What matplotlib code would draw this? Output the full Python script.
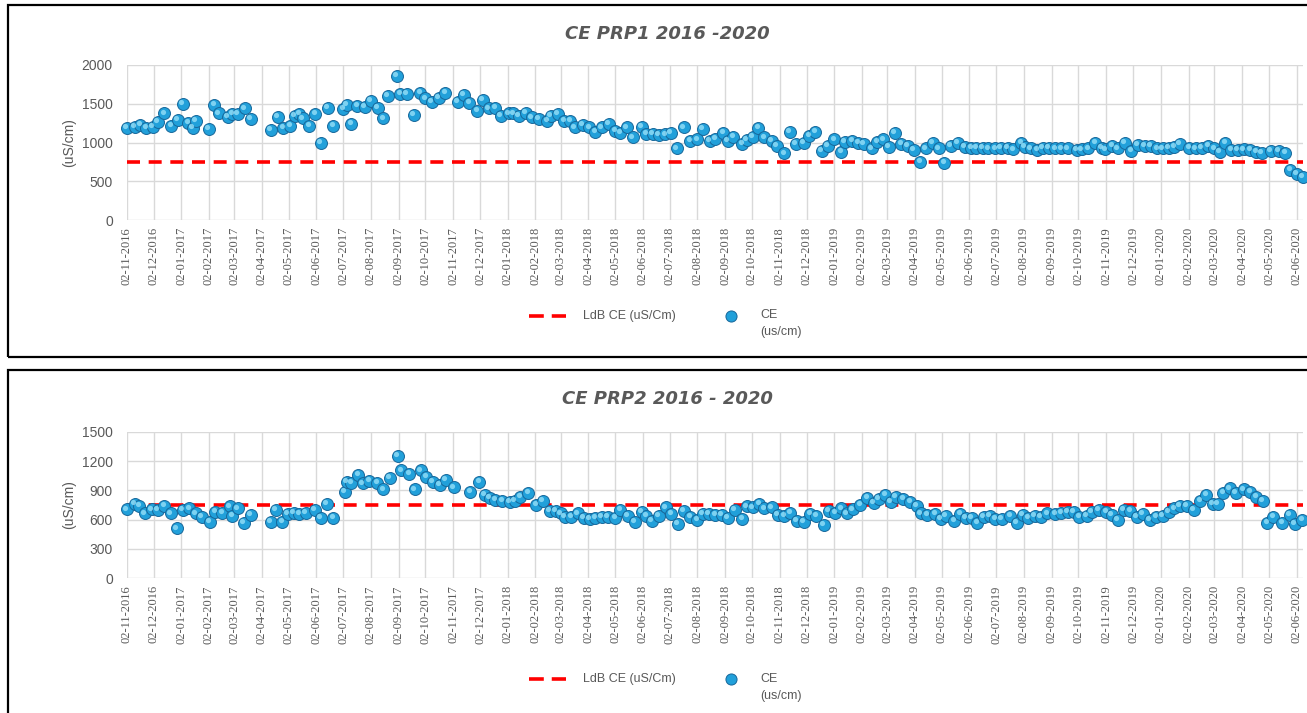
import matplotlib
matplotlib.use("Agg")
import matplotlib.pyplot as plt
import matplotlib.dates as mdates
import pandas as pd
from matplotlib.lines import Line2D
from matplotlib.patches import Rectangle
from matplotlib.transforms import offset_copy

plt.rcParams['font.family'] = ['Liberation Sans', 'DejaVu Sans']

# PRP1 - conductividad electrica (uS/cm)
prp1_fechas = [
    "2016-11-02", "2016-11-11", "2016-11-17", "2016-11-24", "2016-12-01", "2016-12-07", "2016-12-14",
    "2016-12-22", "2016-12-29", "2017-01-04", "2017-01-10", "2017-01-15", "2017-01-18", "2017-02-02",
    "2017-02-08", "2017-02-13", "2017-02-23", "2017-02-28", "2017-03-06", "2017-03-14", "2017-03-21",
    "2017-04-12", "2017-04-20", "2017-04-26", "2017-05-04", "2017-05-09", "2017-05-14", "2017-05-18",
    "2017-05-25", "2017-06-01", "2017-06-07", "2017-06-15", "2017-06-21", "2017-07-02", "2017-07-06",
    "2017-07-11", "2017-07-18", "2017-07-26", "2017-08-02", "2017-08-10", "2017-08-16", "2017-08-21",
    "2017-08-31", "2017-09-04", "2017-09-11", "2017-09-19", "2017-09-26", "2017-10-02", "2017-10-09",
    "2017-10-17", "2017-10-24", "2017-11-07", "2017-11-14", "2017-11-20", "2017-11-29", "2017-12-05",
    "2017-12-12", "2017-12-19", "2017-12-25", "2018-01-03", "2018-01-08", "2018-01-14", "2018-01-22",
    "2018-01-29", "2018-02-06", "2018-02-15", "2018-02-19", "2018-02-27", "2018-03-06", "2018-03-13",
    "2018-03-18", "2018-03-27", "2018-04-03", "2018-04-10", "2018-04-17", "2018-04-25", "2018-05-02",
    "2018-05-08", "2018-05-15", "2018-05-22", "2018-06-01", "2018-06-06", "2018-06-13", "2018-06-20",
    "2018-06-27", "2018-07-03", "2018-07-10", "2018-07-18", "2018-07-25", "2018-08-02", "2018-08-08",
    "2018-08-16", "2018-08-22", "2018-08-31", "2018-09-05", "2018-09-11", "2018-09-21", "2018-09-26",
    "2018-10-03", "2018-10-09", "2018-10-16", "2018-10-24", "2018-10-30", "2018-11-07", "2018-11-13",
    "2018-11-20", "2018-11-29", "2018-12-05", "2018-12-12", "2018-12-19", "2018-12-26", "2019-01-02",
    "2019-01-10", "2019-01-14", "2019-01-22", "2019-01-29", "2019-02-04", "2019-02-13", "2019-02-19",
    "2019-02-26", "2019-03-04", "2019-03-11", "2019-03-18", "2019-03-25", "2019-04-01", "2019-04-08",
    "2019-04-14", "2019-04-22", "2019-04-29", "2019-05-05", "2019-05-12", "2019-05-20", "2019-05-28",
    "2019-06-04", "2019-06-10", "2019-06-17", "2019-06-23", "2019-07-01", "2019-07-07", "2019-07-15",
    "2019-07-21", "2019-07-30", "2019-08-03", "2019-08-10", "2019-08-17", "2019-08-23", "2019-08-30",
    "2019-09-06", "2019-09-13", "2019-09-20", "2019-09-30", "2019-10-06", "2019-10-13", "2019-10-21",
    "2019-10-28", "2019-11-01", "2019-11-09", "2019-11-15", "2019-11-23", "2019-11-30", "2019-12-07",
    "2019-12-15", "2019-12-22", "2019-12-29", "2020-01-04", "2020-01-11", "2020-01-17", "2020-01-23",
    "2020-02-03", "2020-02-10", "2020-02-17", "2020-02-24", "2020-03-02", "2020-03-08", "2020-03-14",
    "2020-03-21", "2020-03-28", "2020-04-04", "2020-04-11", "2020-04-18", "2020-04-24", "2020-05-04",
    "2020-05-13", "2020-05-20", "2020-05-26", "2020-06-02", "2020-06-09",
]
prp1_ce = [
    1190, 1205, 1225, 1190, 1200, 1270, 1375,
    1215, 1290, 1495, 1255, 1190, 1275, 1180,
    1490, 1375, 1335, 1365, 1365, 1440, 1305,
    1160, 1335, 1190, 1215, 1340, 1365, 1310,
    1215, 1365, 990, 1450, 1215, 1430, 1490,
    1235, 1470, 1460, 1535, 1450, 1310, 1600,
    1860, 1625, 1625, 1355, 1635, 1570, 1525,
    1575, 1635, 1525, 1610, 1515, 1410, 1550,
    1440, 1450, 1340, 1375, 1375, 1340, 1385,
    1325, 1300, 1275, 1340, 1365, 1280, 1280,
    1195, 1225, 1195, 1140, 1195, 1235, 1150,
    1125, 1195, 1065, 1205, 1110, 1110, 1095,
    1105, 1125, 925, 1195, 1025, 1040, 1175,
    1025, 1045, 1120, 1025, 1075, 980, 1030,
    1075, 1185, 1065, 1025, 955, 860, 1140,
    980, 990, 1085, 1140, 890, 955, 1040,
    875, 1010, 1025, 990, 980, 925, 1010,
    1040, 945, 1120, 980, 955, 905, 750,
    925, 1000, 925, 740, 955, 1000, 945,
    935, 935, 935, 925, 925, 935, 935,
    910, 1000, 945, 925, 905, 935, 935,
    925, 925, 925, 905, 910, 925, 1000,
    935, 910, 955, 925, 990, 890, 965,
    955, 955, 925, 925, 935, 945, 980,
    935, 925, 935, 955, 925, 880, 1000,
    905, 905, 910, 905, 880, 870, 895,
    895, 870, 645, 600, 560,
]

# PRP2 - conductividad electrica (uS/cm)
prp2_fechas = [
    "2016-11-02", "2016-11-11", "2016-11-16", "2016-11-22", "2016-11-30", "2016-12-07", "2016-12-14",
    "2016-12-21", "2016-12-28", "2017-01-04", "2017-01-11", "2017-01-18", "2017-01-25", "2017-02-03",
    "2017-02-09", "2017-02-17", "2017-02-25", "2017-02-28", "2017-03-06", "2017-03-13", "2017-03-21",
    "2017-04-12", "2017-04-18", "2017-04-25", "2017-05-01", "2017-05-08", "2017-05-14", "2017-05-21",
    "2017-05-31", "2017-06-07", "2017-06-14", "2017-06-21", "2017-07-04", "2017-07-06", "2017-07-11",
    "2017-07-19", "2017-07-24", "2017-07-31", "2017-08-09", "2017-08-16", "2017-08-23", "2017-09-01",
    "2017-09-05", "2017-09-14", "2017-09-20", "2017-09-27", "2017-10-03", "2017-10-10", "2017-10-18",
    "2017-10-25", "2017-11-03", "2017-11-21", "2017-12-01", "2017-12-07", "2017-12-13", "2017-12-19",
    "2017-12-27", "2018-01-04", "2018-01-10", "2018-01-16", "2018-01-25", "2018-02-03", "2018-02-10",
    "2018-02-18", "2018-02-25", "2018-03-02", "2018-03-07", "2018-03-14", "2018-03-21", "2018-03-28",
    "2018-04-04", "2018-04-10", "2018-04-17", "2018-04-24", "2018-05-02", "2018-05-08", "2018-05-16",
    "2018-05-24", "2018-06-01", "2018-06-06", "2018-06-12", "2018-06-20", "2018-06-28", "2018-07-04",
    "2018-07-11", "2018-07-18", "2018-07-25", "2018-08-02", "2018-08-08", "2018-08-15", "2018-08-22",
    "2018-08-29", "2018-09-05", "2018-09-13", "2018-09-21", "2018-09-26", "2018-10-03", "2018-10-10",
    "2018-10-16", "2018-10-24", "2018-10-31", "2018-11-07", "2018-11-14", "2018-11-21", "2018-11-29",
    "2018-12-06", "2018-12-13", "2018-12-21", "2018-12-27", "2019-01-03", "2019-01-10", "2019-01-16",
    "2019-01-23", "2019-01-31", "2019-02-08", "2019-02-15", "2019-02-21", "2019-02-28", "2019-03-06",
    "2019-03-12", "2019-03-20", "2019-03-28", "2019-04-04", "2019-04-09", "2019-04-16", "2019-04-25",
    "2019-05-01", "2019-05-07", "2019-05-16", "2019-05-23", "2019-05-29", "2019-06-05", "2019-06-11",
    "2019-06-18", "2019-06-25", "2019-07-01", "2019-07-08", "2019-07-18", "2019-07-25", "2019-08-01",
    "2019-08-07", "2019-08-14", "2019-08-21", "2019-08-28", "2019-09-06", "2019-09-13", "2019-09-20",
    "2019-09-27", "2019-10-03", "2019-10-11", "2019-10-17", "2019-10-25", "2019-11-02", "2019-11-08",
    "2019-11-15", "2019-11-22", "2019-11-29", "2019-12-06", "2019-12-13", "2019-12-21", "2019-12-28",
    "2020-01-04", "2020-01-11", "2020-01-17", "2020-01-23", "2020-01-31", "2020-02-08", "2020-02-15",
    "2020-02-22", "2020-02-29", "2020-03-06", "2020-03-12", "2020-03-19", "2020-03-26", "2020-04-04",
    "2020-04-11", "2020-04-18", "2020-04-25", "2020-04-30", "2020-05-07", "2020-05-17", "2020-05-25",
    "2020-05-31", "2020-06-08",
]
prp2_ce = [
    705, 765, 740, 665, 705, 700, 740,
    665, 510, 700, 715, 665, 630, 580,
    680, 670, 735, 640, 715, 565, 650,
    580, 700, 580, 660, 670, 660, 670,
    700, 620, 765, 620, 885, 990, 980,
    1055, 970, 995, 980, 910, 1030, 1250,
    1105, 1065, 910, 1105, 1040, 990, 955,
    1005, 930, 885, 990, 855, 820, 800,
    795, 785, 795, 835, 875, 750, 795,
    690, 690, 665, 630, 630, 665, 615,
    605, 615, 625, 625, 615, 700, 640,
    580, 680, 640, 590, 640, 725, 660,
    555, 690, 630, 595, 660, 660, 650,
    650, 615, 700, 605, 735, 725, 760,
    715, 725, 650, 640, 670, 590, 580,
    660, 640, 545, 690, 670, 715, 665,
    705, 750, 820, 775, 810, 855, 785,
    830, 810, 785, 740, 665, 650, 660,
    605, 640, 590, 660, 615, 615, 565,
    625, 640, 605, 605, 640, 570, 650,
    615, 640, 625, 665, 660, 670, 680,
    680, 630, 640, 680, 700, 680, 650,
    600, 700, 690, 625, 660, 600, 625,
    640, 680, 715, 740, 740, 700, 795,
    855, 765, 760, 870, 920, 870, 910,
    885, 835, 795, 570, 625, 565, 650,
    555, 600,
]

ldb_ce = 750
ticks_prp1 = [0, 500, 1000, 1500, 2000]
ticks_prp2 = [0, 300, 600, 900, 1200, 1500]

W, H = 1307, 713
GRIS = '#595959'
AZUL = '#21A0DA'
AZUL_BORDE = '#17679A'
ROJO = '#FF0000'
GUIONES = (0, (3.6, 2.4))

fig = plt.figure(figsize=(W / 100, H / 100), dpi=100)


def fx(px):
    return px / W


def fy(py):
    return 1 - py / H


def grafico(rect, fechas, valores, yticks, titulo, titulo_y, ley_y):
    ax = fig.add_axes(rect)
    x = pd.to_datetime(fechas)
    ax.axhline(ldb_ce, color=ROJO, lw=2.6, ls=GUIONES, zorder=2)
    ax.scatter(x, valores, s=74, color=AZUL, edgecolors=AZUL_BORDE, linewidths=0.7,
               zorder=3, clip_on=False)
    brillo = offset_copy(ax.transData, fig=fig, x=-1.6, y=1.8, units='dots')
    ax.scatter(x, valores, s=14, color='#9DE3FA', alpha=0.75, linewidths=0,
               transform=brillo, zorder=4, clip_on=False)

    ax.set_xlim(pd.Timestamp('2016-11-02'), pd.Timestamp('2020-06-09'))
    ax.set_ylim(yticks[0], yticks[-1])
    ax.set_yticks(yticks)
    ax.xaxis.set_major_locator(mdates.MonthLocator(bymonthday=2))
    ax.xaxis.set_major_formatter(mdates.DateFormatter('%d-%m-%Y'))
    ax.grid(True, color='#D9D9D9', lw=1)
    ax.set_axisbelow(True)
    for s in ax.spines.values():
        s.set_visible(False)
    ax.tick_params(axis='y', length=0, pad=10, labelsize=10, labelcolor=GRIS)
    ax.tick_params(axis='x', length=0, pad=5, labelsize=9, labelcolor=GRIS, rotation=90)
    for lbl in ax.get_xticklabels():
        lbl.set_family('Liberation Serif')
    ax.set_ylabel('(uS/cm)', fontsize=10, color=GRIS)
    ax.yaxis.set_label_coords(-0.043, 0.5)

    fig.text(fx(667), titulo_y, titulo, ha='center', va='center', fontsize=13,
             fontweight='bold', fontstyle='italic', color=GRIS, family='DejaVu Sans')

    # leyenda
    fig.add_artist(Line2D([fx(529), fx(566)], [ley_y, ley_y], color=ROJO, lw=2.6,
                          ls=(0, (4.1, 2.2)), transform=fig.transFigure))
    fig.text(fx(583), ley_y, 'LdB CE (uS/Cm)', ha='left', va='center', fontsize=9,
             color=GRIS)
    fig.add_artist(Line2D([fx(731)], [ley_y], ls='none', marker='o', markersize=8,
                          color=AZUL, markeredgecolor=AZUL_BORDE, markeredgewidth=0.7,
                          transform=fig.transFigure))
    fig.text(fx(760), ley_y, 'CE', ha='left', va='center', fontsize=9, color=GRIS)
    fig.text(fx(760), ley_y - 17 / H, '(us/cm)', ha='left', va='center', fontsize=9,
             color=GRIS)
    return ax


grafico([fx(126.7), fy(220), 1176.3 / W, 155 / H], prp1_fechas, prp1_ce,
        ticks_prp1, 'CE PRP1 2016 -2020', fy(34), fy(315.5))
grafico([fx(126.7), fy(578.3), 1176.3 / W, 146.6 / H], prp2_fechas, prp2_ce,
        ticks_prp2, 'CE PRP2 2016 - 2020', fy(399), fy(679))

# marcos de cada grafico
fig.add_artist(Rectangle((fx(8), fy(357)), 1.05, 352 / H, fill=False,
                         ec='black', lw=1.6, transform=fig.transFigure))
fig.add_artist(Rectangle((fx(8), -0.1), 1.05, (343 + 71) / H, fill=False,
                         ec='black', lw=1.6, transform=fig.transFigure))

fig.savefig('out.png', dpi=100)
